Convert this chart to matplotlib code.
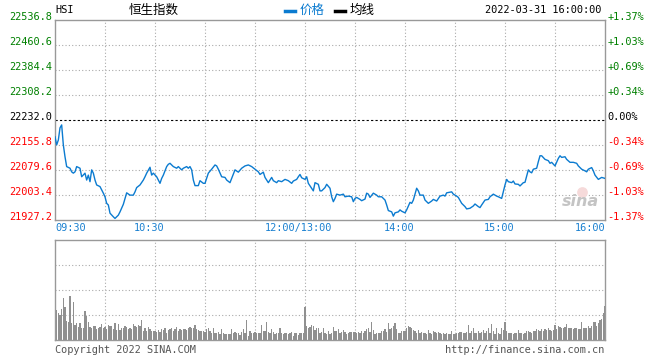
import matplotlib
matplotlib.use("Agg")
from matplotlib import pyplot as plt

# --- data ---
prev_close = 22232.0
price_ticks = [21927.2, 22003.4, 22079.6, 22155.8, 22232.0, 22308.2, 22384.4, 22460.6, 22536.8]
pct_labels = ["-1.37%", "-1.03%", "-0.69%", "-0.34%", "0.00%", "+0.34%", "+0.69%", "+1.03%", "+1.37%"]
grid_minutes = [0, 30, 60, 90, 120, 150, 180, 210, 240, 270, 300, 330]
time_label_pos = [0, 60, 150, 210, 270, 330]
time_labels = ["09:30", "10:30", "12:00/13:00", "14:00", "15:00", "16:00"]

# trading minute since 09:30 (lunch break removed) and index level
minutes = [0, 1, 2, 3, 4, 5, 6, 7, 9, 10, 11, 12, 13, 15, 16, 18, 19, 20, 21, 22,
           23, 24, 25, 27, 29, 30, 31, 32, 33, 35, 36, 37, 38, 39, 41, 42, 43, 45, 47, 48,
           49, 51, 53, 54, 55, 57, 58, 59, 61, 62, 63, 64, 65, 67, 68, 69, 71, 73, 74, 76,
           77, 79, 80, 81, 82, 83, 84, 86, 87, 89, 90, 92, 94, 96, 97, 98, 100, 102, 103, 105,
           106, 108, 110, 112, 114, 116, 118, 120, 122, 123, 125, 126, 128, 130, 131, 133, 134, 136, 138, 140,
           142, 143, 145, 146, 147, 148, 150, 151, 152, 154, 155, 156, 158, 159, 160, 162, 163, 165, 166, 167,
           168, 169, 171, 173, 174, 176, 178, 179, 180, 181, 183, 184, 186, 187, 188, 189, 191, 193, 194, 196,
           198, 199, 200, 202, 203, 204, 206, 207, 208, 210, 211, 213, 214, 215, 217, 218, 219, 221, 222, 224,
           226, 227, 229, 231, 233, 234, 235, 237, 238, 239, 241, 242, 244, 246, 247, 249, 251, 252, 254, 255,
           256, 258, 260, 261, 263, 265, 266, 268, 269, 270, 271, 272, 274, 275, 276, 278, 279, 281, 282, 284,
           285, 286, 287, 289, 290, 291, 292, 294, 296, 297, 298, 300, 302, 303, 304, 306, 307, 309, 311, 313,
           314, 316, 318, 319, 320, 322, 323, 324, 326, 327, 328, 330]
prices = [22181, 22156, 22171, 22208, 22217, 22156, 22120, 22090, 22085, 22074, 22070, 22074, 22090, 22085, 22059, 22070, 22049, 22064, 22044, 22080,
          22070, 22049, 22034, 22029, 22009, 21998, 21978, 21973, 21948, 21937, 21932, 21937, 21942, 21952, 21975, 21993, 22010, 22003, 22003, 22013,
          22026, 22034, 22049, 22059, 22070, 22088, 22064, 22070, 22059, 22049, 22039, 22054, 22064, 22090, 22097, 22100, 22090, 22085, 22090, 22080,
          22085, 22090, 22085, 22090, 22080, 22049, 22032, 22032, 22047, 22039, 22039, 22070, 22082, 22095, 22092, 22082, 22059, 22057, 22049, 22041,
          22054, 22080, 22073, 22085, 22092, 22095, 22090, 22082, 22074, 22066, 22073, 22057, 22041, 22057, 22047, 22041, 22047, 22044, 22051, 22047,
          22039, 22046, 22051, 22059, 22066, 22056, 22051, 22059, 22039, 22024, 22016, 22041, 22036, 22016, 22016, 22026, 22036, 22024, 21998, 21983,
          21993, 22006, 22003, 22006, 21998, 22000, 21998, 21983, 21993, 21996, 21990, 21986, 21991, 22009, 22006, 21996, 22009, 22003, 21998, 21998,
          21988, 21973, 21956, 21952, 21939, 21949, 21952, 21958, 21954, 21949, 21958, 21981, 21978, 21988, 22024, 22016, 22003, 22003, 21988, 21978,
          21985, 21990, 21985, 22000, 22003, 22000, 22010, 22012, 22013, 22006, 22000, 21996, 21978, 21968, 21961, 21963, 21970, 21976, 21968, 21965,
          21973, 21988, 21990, 21998, 22006, 22000, 21998, 21993, 22013, 22034, 22051, 22044, 22041, 22046, 22037, 22036, 22031, 22041, 22042, 22080,
          22074, 22071, 22082, 22085, 22105, 22123, 22123, 22112, 22108, 22100, 22103, 22092, 22115, 22123, 22118, 22120, 22112, 22103, 22103, 22100,
          22092, 22082, 22077, 22074, 22082, 22087, 22077, 22064, 22051, 22054, 22057, 22054]

# volume per minute (relative bar height, 100 = panel top)
volume = [30, 30, 27, 25, 31, 42, 33, 19, 18, 44, 17, 38, 15, 17, 13, 17, 12, 12, 29, 24,
          18, 13, 12, 14, 14, 11, 12, 13, 16, 12, 13, 11, 15, 14, 14, 11, 17, 10, 16, 10,
          12, 12, 14, 13, 11, 12, 11, 16, 14, 13, 15, 14, 20, 9, 12, 9, 13, 11, 9, 9,
          9, 8, 10, 8, 11, 10, 12, 7, 10, 11, 12, 9, 11, 13, 9, 11, 10, 11, 11, 10,
          12, 13, 12, 12, 15, 11, 10, 9, 9, 9, 8, 11, 12, 9, 7, 12, 7, 7, 8, 6,
          11, 7, 6, 6, 6, 6, 11, 7, 8, 7, 7, 5, 8, 11, 7, 20, 4, 9, 7, 7,
          8, 7, 7, 7, 15, 9, 9, 18, 8, 7, 11, 8, 6, 7, 7, 12, 7, 6, 7, 7,
          6, 7, 8, 4, 7, 7, 5, 7, 7, 7, 33, 14, 12, 13, 15, 14, 10, 12, 12, 7,
          8, 12, 7, 6, 9,
          6, 7, 13, 9, 9, 11, 7, 8, 10, 8, 6, 7, 8, 8, 8, 8, 7, 8, 7, 9,
          7, 9, 11, 12, 8, 18, 10, 6, 7, 7, 7, 9, 9, 11, 8, 17, 11, 12, 14, 17,
          11, 7, 7, 9, 9, 9, 12, 14, 13, 12, 10, 9, 7, 10, 7, 8, 7, 7, 6, 10,
          7, 6, 9, 8, 7, 8, 7, 6, 7, 6, 7, 6, 6, 9, 6, 6, 7, 7, 8, 8,
          7, 7, 8, 15, 7, 9, 12, 7, 7, 9, 7, 8, 10, 7, 9, 12, 7, 16, 9, 6,
          12, 7, 6, 12, 10, 18, 9, 7, 7, 7, 6, 7, 7, 10, 7, 7, 6, 7, 9, 9,
          8, 7, 9, 9, 11, 10, 9, 11, 9, 11, 10, 12, 10, 9, 10, 15, 11, 14, 13, 12,
          12, 13, 16, 12, 12, 12, 11, 12, 12, 11, 11, 18, 12, 12, 12, 14, 12, 14, 18, 18,
          14, 17, 20, 21, 27, 34]

# --- style ---
mono = "DejaVu Sans Mono"
cjk = ["Noto Sans CJK SC", "DejaVu Sans"]
line_blue = "#0b7bd0"
label_blue = "#1a80d0"
green = "#008000"
red = "#ff0000"
frame = "#999999"
fs = 7.4

fig = plt.figure(figsize=(6.6, 3.6), dpi=100)
W, H = 660.0, 360.0


def px(x, y):
    return x / W, 1 - y / H


ax = fig.add_axes([55 / W, 1 - 220 / H, 550 / W, 200 / H])
vax = fig.add_axes([55 / W, 1 - 340 / H, 550 / W, 100 / H])

for a in (ax, vax):
    a.set_xlim(0, 330)
    a.set_xticks([])
    a.set_yticks([])
    for s in a.spines.values():
        s.set_color(frame)
        s.set_linewidth(1.0)
    for m in grid_minutes[1:-1]:
        a.axvline(m, color="#aaaaaa", lw=0.8, ls=(0, (1, 2)), zorder=0)

# price panel
ax.set_ylim(price_ticks[0], price_ticks[-1])
for v in price_ticks[1:-1]:
    if v == prev_close:
        ax.axhline(v, color="black", lw=0.8, ls=(0, (2, 2)), zorder=1)
    else:
        ax.axhline(v, color="#aaaaaa", lw=0.8, ls=(0, (1, 2)), zorder=0)
ax.plot(minutes, prices, color=line_blue, lw=1.0, zorder=3)

ytr = ax.get_yaxis_transform()
for v, p in zip(price_ticks, pct_labels):
    c = green if v > prev_close else (red if v < prev_close else "black")
    ax.text(-0.006, v, f"{v:.1f}", transform=ytr, ha="right", va="baseline",
            color=c, fontsize=fs, family=mono)
    ax.text(1.004, v, p, transform=ytr, ha="left", va="baseline",
            color=c, fontsize=fs, family=mono)

xtr = ax.get_xaxis_transform()
for m, lab in zip(time_label_pos, time_labels):
    if m == 0:
        ha, xm = "left", m
    elif m == 330:
        ha, xm = "right", m
    else:
        ha, xm = "center", m - 3.6
    ax.text(xm, -0.015, lab, transform=xtr, ha=ha, va="top",
            color=label_blue, fontsize=fs, family=mono)

# sina watermark
ax.scatter([316], [22014], s=60, color="#f6dada", zorder=2, lw=0)
ax.text(315, 21985, "sina", ha="center", va="center", fontsize=11.5, fontweight="bold",
        fontstyle="italic", color="#c4c4c4", family="DejaVu Sans", zorder=2)

# volume panel
vax.set_ylim(0, 100)
for v in (25, 50, 75):
    vax.axhline(v, color="#aaaaaa", lw=0.8, ls=(0, (1, 2)), zorder=0)
vax.bar(range(len(volume)), volume, width=0.72, color="#909090", lw=0, zorder=2)

# header
fig.text(*px(55, 10), "HSI", ha="left", va="center", fontsize=fs, family=mono)
fig.text(*px(154, 10), "恒生指数", ha="center", va="center", fontsize=9, family=cjk)
fig.add_artist(plt.Line2D([285 / W, 295 / W], [1 - 11 / H, 1 - 11 / H], color=line_blue, lw=2.5))
fig.text(*px(300, 10), "价格", ha="left", va="center", fontsize=9, family=cjk, color=line_blue)
fig.add_artist(plt.Line2D([335 / W, 345 / W], [1 - 11 / H, 1 - 11 / H], color="black", lw=2.5))
fig.text(*px(350, 10), "均线", ha="left", va="center", fontsize=9, family=cjk)
fig.text(*px(601, 10), "2022-03-31 16:00:00", ha="right", va="center", fontsize=fs, family=mono)

# footer
fig.text(*px(55, 350), "Copyright 2022 SINA.COM", ha="left", va="center",
         fontsize=fs, family=mono, color="#555555")
fig.text(*px(604, 350), "http://finance.sina.com.cn", ha="right", va="center",
         fontsize=fs, family=mono, color="#555555")

fig.savefig("out.png", dpi=100)
